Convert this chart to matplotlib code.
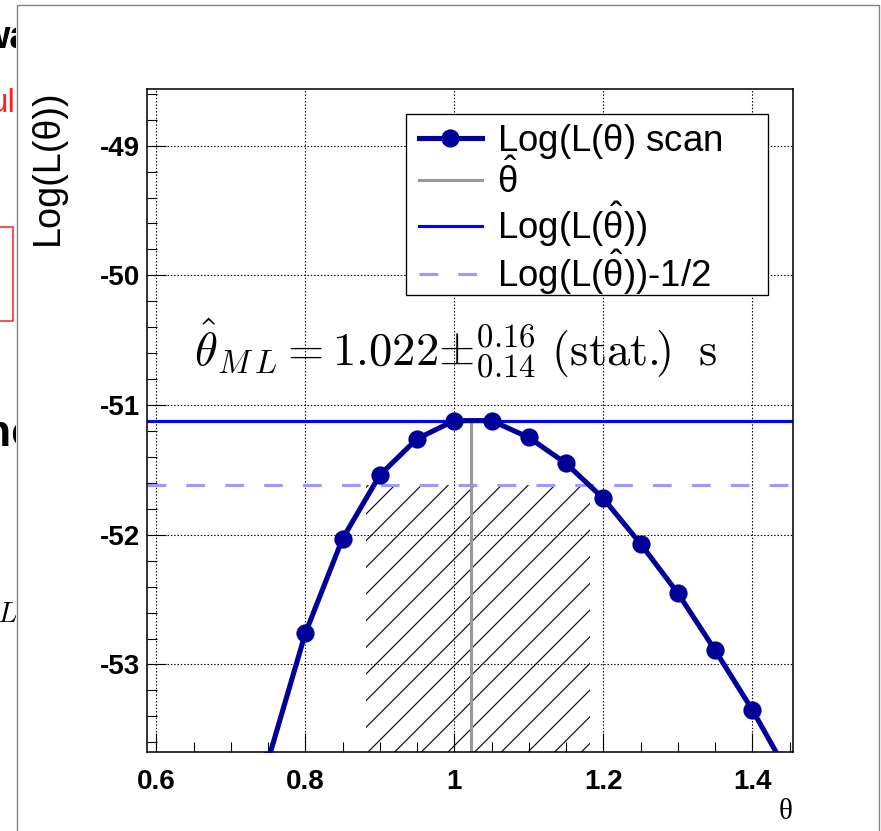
import matplotlib
matplotlib.use("Agg")
import matplotlib.pyplot as plt
from matplotlib.ticker import MultipleLocator, FuncFormatter
from matplotlib.font_manager import FontProperties
from matplotlib.patches import Rectangle
from matplotlib.lines import Line2D

# likelihood scan
theta = [0.75, 0.80, 0.85, 0.90, 0.95, 1.00, 1.05, 1.10, 1.15, 1.20, 1.25, 1.30, 1.35, 1.40, 1.45]
log_l = [-53.74, -52.76, -52.03, -51.54, -51.26, -51.12, -51.12, -51.25, -51.45, -51.72,
         -52.07, -52.45, -52.89, -53.35, -53.86]
theta_hat = 1.022
err_up = 0.16
err_down = 0.14
log_l_max = -51.12

legend_labels = [r'Log(L($\mathrm{\theta}$) scan', r'$\hat{\mathrm{\theta}}$',
                 r'Log(L($\hat{\mathrm{\theta}}$))', r'Log(L($\hat{\mathrm{\theta}}$))-1/2']

W, H, DPI = 881, 831, 160

plt.rcParams['font.family'] = ['Liberation Sans', 'DejaVu Sans']
plt.rcParams['axes.unicode_minus'] = False
plt.rcParams['hatch.linewidth'] = 0.5
plt.rcParams['mathtext.fontset'] = 'custom'
plt.rcParams['mathtext.rm'] = 'Liberation Sans'
plt.rcParams['mathtext.it'] = 'Liberation Sans:italic'
plt.rcParams['mathtext.bf'] = 'Liberation Sans:bold'


def px(x, y):
    """pixel position (from top left) -> figure fraction"""
    return x / W, 1 - y / H


fig = plt.figure(figsize=(W / DPI, H / DPI), dpi=DPI)
ax = fig.add_axes([147 / W, 1 - 752 / H, 646 / W, 663 / H])
ax.set_xlim(0.5875, 1.4546)
ax.set_ylim(-53.675, -48.563)
y_lo = ax.get_ylim()[0]

# +-1 sigma band
ax.fill_between([theta_hat - err_down, theta_hat + err_up], y_lo, log_l_max - 0.5,
                facecolor='none', edgecolor='black', hatch='//', linewidth=0, zorder=1)

h_max = ax.axhline(log_l_max, color='#0000ff', lw=1.4, zorder=2)
h_half = ax.axhline(log_l_max - 0.5, color='#9999ff', lw=1.4, ls=(0, (6, 6.5)), zorder=2)
h_hat, = ax.plot([theta_hat, theta_hat], [y_lo, log_l_max], color='#999999', lw=1.4, zorder=2)
h_scan, = ax.plot(theta, log_l, color='#000099', lw=2.3, marker='o', ms=7.2, zorder=3)

ax.grid(True, which='major', color='black', ls=(0, (1.3, 1.7)), lw=0.5)
ax.xaxis.set_major_locator(MultipleLocator(0.2))
ax.xaxis.set_minor_locator(MultipleLocator(0.05))
ax.yaxis.set_major_locator(MultipleLocator(1))
ax.yaxis.set_minor_locator(MultipleLocator(0.2))
fmt = FuncFormatter(lambda v, p: f'{v:g}')
ax.xaxis.set_major_formatter(fmt)
ax.yaxis.set_major_formatter(fmt)
ax.tick_params(which='both', direction='in', top=False, right=False, width=0.5)
ax.tick_params(which='major', length=8.5, labelsize=12.5)
ax.tick_params(which='minor', length=4.3)
ax.tick_params(axis='x', which='major', pad=7.5)
ax.tick_params(axis='y', which='major', pad=3)
for lab in ax.get_xticklabels() + ax.get_yticklabels():
    lab.set_fontweight('bold')
for sp in ax.spines.values():
    sp.set_linewidth(0.7)

ax.set_ylabel('Log(L(θ))', fontsize=17, loc='top', labelpad=15.5)
ax.set_xlabel('θ', fontsize=13, loc='right', family=['Liberation Serif', 'DejaVu Serif'], labelpad=2)

# legend box drawn as ROOT does, fixed size
ax.add_patch(Rectangle((0.401, 0.6893), 0.56, 0.273, transform=ax.transAxes,
                       facecolor='white', edgecolor='black', lw=0.6, zorder=5))
leg = ax.legend([h_scan, h_hat, h_max, h_half], legend_labels, loc='upper left',
                bbox_to_anchor=(0.421, 0.9505), borderaxespad=0, borderpad=0,
                frameon=False, fontsize=16.5, handlelength=1.72, handletextpad=0.4,
                labelspacing=-0.03)
leg.set_zorder(6)

ax.text(0.651, -50.69,
        r'$\hat{\theta}_{M\,L} = 1.022{\pm}^{0.16}_{0.14}\ (\mathrm{stat}.\!\!)\ \;\mathrm{s}$',
        fontproperties=FontProperties(size=21, math_fontfamily='cm'), va='baseline', zorder=4)

# pieces of the page behind the canvas
clip = Rectangle((0, 0), 16 / W, 1, transform=fig.transFigure, facecolor='none', edgecolor='none')
fig.add_artist(clip)
bits = [
    fig.text(*px(-20, 48), 'wa', fontsize=17, fontweight='bold', color='black'),
    fig.text(*px(-10, 112), 'ul', fontsize=15, color='#ff2020'),
    fig.text(*px(-16, 446), 'nc', fontsize=20, fontweight='bold', color='black'),
    fig.text(*px(-3, 622), r'$L$', fontproperties=FontProperties(size=13, math_fontfamily='cm')),
]
for t in bits:
    t.set_clip_path(clip)
red = '#ff2020'
fig.add_artist(Line2D([0, 12.7 / W, 12.7 / W, 0], [1 - 227 / H, 1 - 227 / H, 1 - 321 / H, 1 - 321 / H],
                      transform=fig.transFigure, color=red, lw=0.7))

# canvas border
gray = '#808080'
fig.add_artist(Line2D([16.5 / W, 16.5 / W, 878.5 / W, 878.5 / W], [0, 1 - 5 / H, 1 - 5 / H, 0],
                      transform=fig.transFigure, color=gray, lw=0.6))

fig.savefig('out.png', dpi=DPI)
